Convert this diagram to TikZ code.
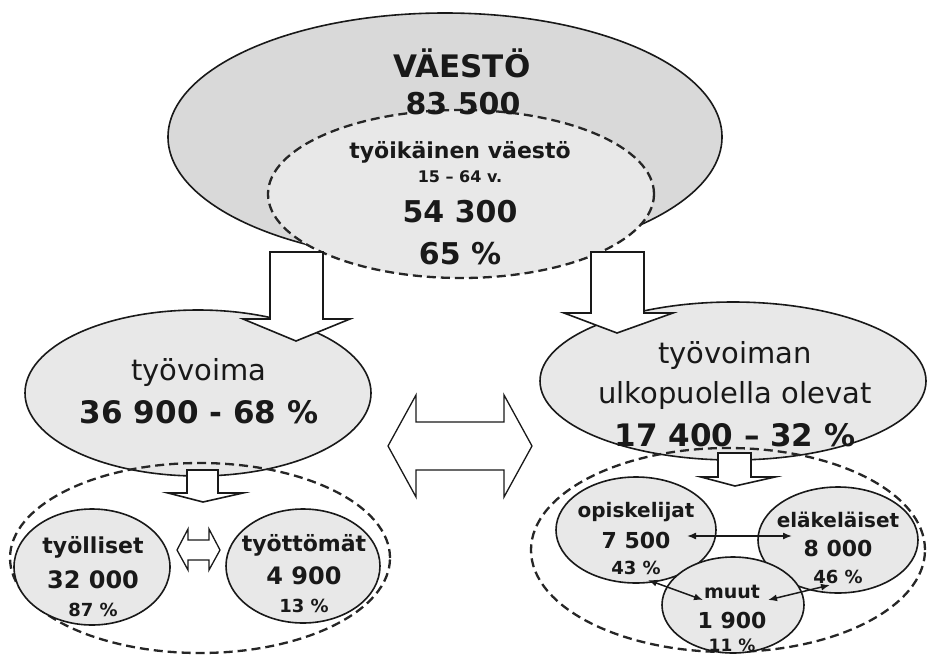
\documentclass[tikz,border=0pt]{standalone}
\usepackage{fontspec}
\setmainfont{DejaVu Sans}
\usetikzlibrary{shapes.geometric,arrows.meta}
\begin{document}
\begin{tikzpicture}[x=1pt,y=-1pt,
  ell/.style={draw=black!90,line width=1.6pt,ellipse,inner sep=0pt,fill=black!9},
  dashell/.style={draw=black!85,line width=2.3pt,dash pattern=on 9pt off 5pt,ellipse,inner sep=0pt},
  blockarr/.style={draw=black!90,line width=1.6pt,fill=white,line join=miter},
  thinarr/.style={draw=black!90,line width=1.5pt,{Latex[length=9pt,width=7pt]}-{Latex[length=9pt,width=7pt]}},
  txt/.style={inner sep=0pt,text=black!90},
  fb/.style={txt,font=\bfseries\fontsize{#1}{#1}\selectfont},
  fr/.style={txt,font=\fontsize{#1}{#1}\selectfont}
]
\useasboundingbox (0,0) rectangle (929,656);
\fill[white] (0,0) rectangle (929,656);

% top ellipses
\node[ell,fill=black!15,minimum width=554pt,minimum height=248pt] (pop) at (445,137) {};
\node[dashell,fill=black!9,minimum width=386pt,minimum height=168pt] (work) at (461,194) {};

% middle ellipses
\node[ell,minimum width=346pt,minimum height=166pt] (lab) at (198,393) {};
\node[ell,minimum width=386pt,minimum height=158pt] (out) at (733,381) {};

% big down arrows
\draw[blockarr] (270,252) -- (323,252) -- (323,319) -- (350,319) -- (296,341) -- (243,319) -- (270,319) -- cycle;
\draw[blockarr] (591,252) -- (644,252) -- (644,313) -- (673,313) -- (617,333) -- (564,313) -- (591,313) -- cycle;

% middle double arrow
\draw[blockarr,line width=1.3pt] (388,446) -- (416,395) -- (416,422) -- (504,422) -- (504,395) -- (532,446) -- (504,497) -- (504,470) -- (416,470) -- (416,497) -- cycle;

% lower dashed groups
\node[dashell,minimum width=380pt,minimum height=190pt] (labgrp) at (200,558) {};
\node[dashell,minimum width=394pt,minimum height=204pt] (outgrp) at (728,550) {};

% sub ellipses
\node[ell,minimum width=156pt,minimum height=116pt] (emp) at (92,567) {};
\node[ell,minimum width=154pt,minimum height=114pt] (unemp) at (303,566) {};
\node[ell,minimum width=160pt,minimum height=106pt] (stud) at (636,530) {};
\node[ell,minimum width=160pt,minimum height=106pt] (ret) at (838,540) {};
\node[ell,minimum width=142pt,minimum height=96pt] (oth) at (733,605) {};

% small down arrows
\draw[blockarr] (187,470) -- (218,470) -- (218,493) -- (243,493) -- (203,502) -- (168,493) -- (187,493) -- cycle;
\draw[blockarr] (718,453) -- (751,453) -- (751,477) -- (775,477) -- (735,486) -- (701,477) -- (718,477) -- cycle;

% small double arrow
\draw[blockarr,line width=1.3pt] (177,550) -- (188,529) -- (188,540) -- (209,540) -- (209,529) -- (220,550) -- (209,570) -- (209,560) -- (188,560) -- (188,570) -- cycle;

% thin arrows
\coordinate (s1) at (687,536); \coordinate (r1) at (792,536);
\coordinate (s2) at (648,580); \coordinate (o1) at (703,600);
\coordinate (r2) at (830,585); \coordinate (o2) at (768,600);
\draw[thinarr] (s1) -- (r1);
\draw[thinarr] (s2) -- (o1);
\draw[thinarr] (r2) -- (o2);

% texts
\node[fb=31] (t1) at (462,63) {VÄESTÖ};
\node[fb=30] (t2) at (463,104) {83 500};
\node[fb=22] (t3) at (460,152) {työikäinen väestö};
\node[fb=16] (t4) at (460,177) {15 – 64 v.};
\node[fb=30] (t5) at (460,212) {54 300};
\node[fb=30] (t6) at (460,254) {65 \%};

\node[fr=29] (t7) at (199,372) {työvoima};
\node[fb=31] (t8) at (199,412) {36 900 - 68 \%};
\node[fr=29] (t9) at (735,355) {työvoiman};
\node[fr=29] (t10) at (735,395) {ulkopuolella olevat};
\node[fb=31] (t11) at (735,435) {17 400 – 32 \%};

\node[fb=22] (t12) at (93,547) {työlliset};
\node[fb=24] (t13) at (93,580) {32 000};
\node[fb=18] (t14) at (93,610) {87 \%};
\node[fb=22] (t15) at (304,545) {työttömät};
\node[fb=24] (t16) at (304,576) {4 900};
\node[fb=18] (t17) at (304,606) {13 \%};

\node[fb=20] (t18) at (636,512) {opiskelijat};
\node[fb=22] (t19) at (636,540) {7 500};
\node[fb=18] (t20) at (636,568) {43 \%};
\node[fb=20] (t21) at (838,520) {eläkeläiset};
\node[fb=22] (t22) at (838,548) {8 000};
\node[fb=18] (t23) at (838,577) {46 \%};
\node[fb=19] (t24) at (732,592) {muut};
\node[fb=22] (t25) at (732,620) {1 900};
\node[fb=17] (t26) at (732,645) {11 \%};
\end{tikzpicture}
\end{document}
